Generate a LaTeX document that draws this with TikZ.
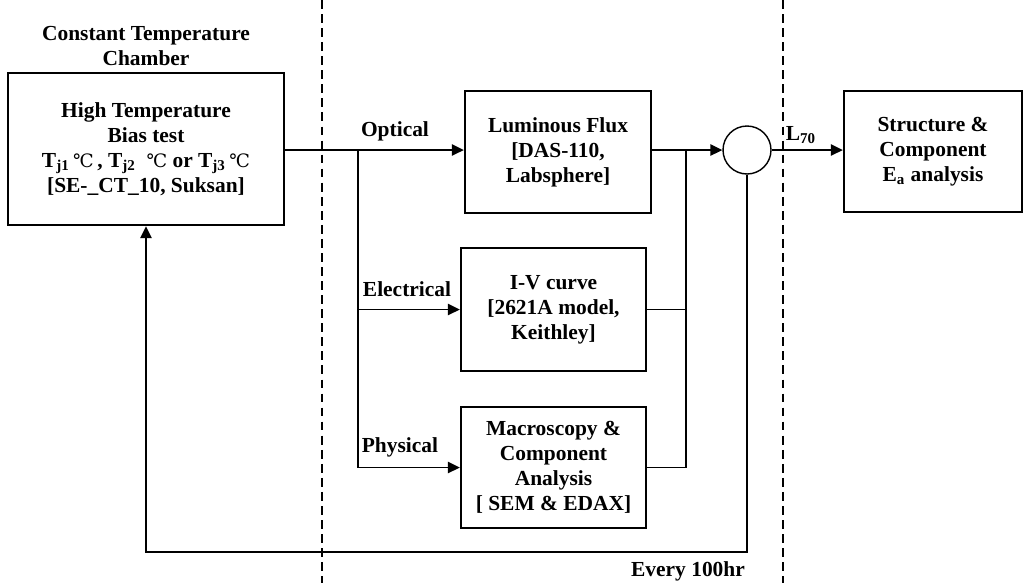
\documentclass[tikz,border=0pt]{standalone}
\usepackage{fontspec}
\setmainfont{Liberation Serif}
\newfontfamily\degfont{DejaVu Serif}
\usetikzlibrary{arrows.meta}
\newcommand{\degC}{{\degfont\mdseries\fontsize{10.5}{12}\selectfont ℃}}

\begin{document}
\begin{tikzpicture}[x=0.02cm, y=-0.02cm,
  every node/.style={font=\fontsize{12.2}{14.2}\selectfont\bfseries, align=center},
  blockbox/.style={draw, line width=1.4pt, inner sep=0pt},
  conn/.style={line width=0.8pt},
  arr/.style={conn, -{Triangle[length=2.4mm, width=2.3mm]}}]
  \useasboundingbox (0,0) rectangle (1026,583);
  % stage separators
  \draw[dashed, line width=0.7pt, dash pattern=on 5pt off 3pt] (322,0) -- (322,583);
  \draw[dashed, line width=0.7pt, dash pattern=on 5pt off 3pt] (783,0) -- (783,583);
  % blocks
  \node (title) at (146,46) {Constant Temperature\\Chamber};
  \node[blockbox, minimum width=5.52cm, minimum height=3.04cm] (chamber) at (146,149)
    {High Temperature\\Bias test\\T\textsubscript{j1}\,\degC\,, T\textsubscript{j2}\ \ \degC\ or T\textsubscript{j3}\,\degC\\{}[SE-\_CT\_10, Suksan]};
  \node[blockbox, minimum width=3.72cm, minimum height=2.44cm] (flux) at (558,152)
    {Luminous Flux\\{}[DAS-110,\\Labsphere]};
  \node[blockbox, minimum width=3.7cm, minimum height=2.46cm] (iv) at (553.5,309.5)
    {I-V curve\\{}[2621A model,\\Keithley]};
  \node[blockbox, minimum width=3.7cm, minimum height=2.42cm] (macro) at (553.5,467.5)
    {Macroscopy \&\\Component\\Analysis\\{}[ SEM \& EDAX]};
  \node[draw, circle, conn, minimum size=0.96cm, inner sep=0pt] (sum) at (747,150) {};
  \node[blockbox, minimum width=3.56cm, minimum height=2.42cm] (ea) at (933,151.5)
    {Structure \&\\Component\\E\textsubscript{a} analysis};
  % junction points
  \coordinate (br) at (358,150);
  \coordinate (bus) at (686,150);
  \coordinate (loop) at (146,552);
  % connectors
  \draw[arr] (chamber.east |- br) -- (flux.west |- br);
  \draw[arr] (br) |- (macro.west);
  \draw[arr] (br |- iv.west) -- (iv.west);
  \draw[conn] (flux.east |- bus) -- (bus);
  \draw[conn] (iv.east) -| (bus);
  \draw[conn] (macro.east) -| (bus);
  \draw[arr] (bus) -- (sum.west);
  \draw[arr] (sum.east) -- (ea.west |- sum.east);
  \draw[arr] (sum.south) |- (loop) -- (chamber.south);
  % labels
  \node (optical) at (395,131) {Optical};
  \node (electrical) at (407,289) {Electrical};
  \node (physical) at (400,447) {Physical};
  \node (lseventy) at (801,135) {L\textsubscript{70}};
  \node (every) at (688,571) {Every 100hr};
\end{tikzpicture}
\end{document}
